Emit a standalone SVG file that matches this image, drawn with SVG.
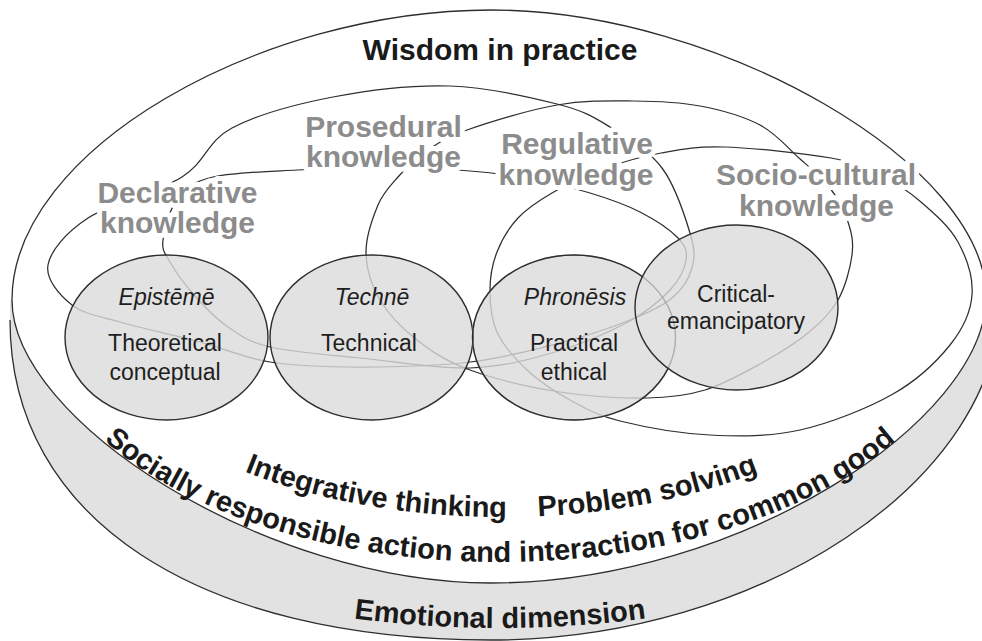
<svg xmlns="http://www.w3.org/2000/svg" xmlns:xlink="http://www.w3.org/1999/xlink" width="982" height="641" viewBox="0 0 982 641">
<style>
.edge{fill:none;stroke:#2e2e2e;stroke-width:1.3}
.loop{fill:none;stroke:#2e2e2e;stroke-width:1.25}
.cfill{fill:#dbdbdb}
.cout{fill:none;stroke:#2e2e2e;stroke-width:1.4}
.ctext{font-family:"Liberation Sans",Arial,Helvetica,sans-serif;font-size:23px;fill:#1e1e1e;text-anchor:middle}
.it{font-style:italic}
.klab{font-family:"Liberation Sans",Arial,Helvetica,sans-serif;font-size:30px;font-weight:bold;fill:#8c8c8c;text-anchor:middle;stroke:#fff;stroke-width:10;stroke-linejoin:round;paint-order:stroke}
.big{font-family:"Liberation Sans",Arial,Helvetica,sans-serif;font-size:29px;font-weight:bold;fill:#1a1a1a}
</style>
<defs>
<clipPath id="outCrit"><path clip-rule="evenodd" d="M0,0H982V641H0Z M635,307.5 a101.5,82.5 0 1,0 203,0 a101.5,82.5 0 1,0 -203,0 Z"/></clipPath>
<path id="p-social" d="M31,300 A469,262 0 0,0 969,300"/>
<path id="p-int" d="M82,300 A420,217 0 0,0 922,300"/>
<path id="p-emo" d="M300,610 Q500,646 700,610"/>
</defs>

<!-- disc: side band, then top face -->
<path d="M10,320 C10,520 200,640 491,640 C760,640 1000,480 1000,300 L10,300 Z" fill="#e2e2e2"/>
<path class="edge" d="M10,320 C10,520 200,640 491,640 C760,640 1000,480 1000,300"/>
<path class="edge" style="fill:#fff" d="M12,300 C12,150 260,10 491,10 C720,10 986,165 986,297 C986,420 740,583 491,583 C265,583 12,420 12,300 Z"/>

<!-- knowledge loops -->
<g id="connectors">
<path id="loop-declarative-regulative" class="loop" d="M182,177 C206,162 206.8,141.3 232,128 S296.7,104 333,97 S412.7,84.8 450,86 S530.3,97.2 557,104 S592.5,116.3 610,127 S648.7,150.3 662,168 S685,216.3 690,233 S695,257.2 692,268 S682.3,289.3 672,298 S648.7,312.5 630,320 S586.7,336 560,343 S503.3,358 470,362 S393.3,367 360,367 S296.7,366.2 270,362 S225,348.7 200,342 S141.3,328.2 120,322 S84,314.5 72,305 S45.3,279.5 48,265 S65.7,232.7 88,218 S158,192 182,177 Z"/>
<path id="loop-declarative-prosedural-regulative" class="loop" d="M163,240 C161.7,250.7 164.7,252.7 170,262 S185.3,285.2 195,296 S215.5,318.5 228,327 S248,341.8 270,347 S326.7,354.5 360,358 S437.5,369 470,368 S528.7,359.7 555,352 S608.8,332.3 628,322 S660.3,300.3 670,290 S684.7,268.7 686,260 S685.7,246 678,238 S654.7,219.5 640,212 S608.3,198.5 590,193 S550,182.7 530,179 S494.5,172.8 470,171 S411.8,168.2 383,168 S325.3,168.5 297,170 S232.8,172.3 213,177 S186.3,187.5 178,198 S164.3,229.3 163,240 Z"/>
<path id="loop-prosedural-sociocultural" class="loop" d="M398,177 C390.2,185.8 383.3,192.3 378,205 S365.7,237.2 366,253 S371.5,285.5 380,300 S402,328.3 417,340 S446.2,361.3 470,370 S530.5,387.3 560,392 S622.8,398.3 647,398 S686.2,395.7 705,390 S742.8,373.5 760,364 S795,343.7 808,333 S830.7,313 838,300 S850.3,268 852,255 S851.7,233.2 848,222 S838.2,198.7 830,188 S810.7,168.5 799,158 S776.5,133.7 760,125 S721.2,110 700,106 S656.8,101.2 633,101 S584.7,100.2 557,105 S489,122.2 467,130 S436.5,144.2 425,152 S405.8,168.2 398,177 Z"/>
<path id="loop-regulative-sociocultural" class="loop" d="M552,193 C538.3,201 527.2,208.2 518,218 S501.7,240 497,252 S490,276.7 490,290 S490.8,318.7 497,332 S514.8,358.7 527,370 S554.5,391.5 570,400 S596.7,415.2 620,421 S680,433.5 710,435 S769.5,436.8 800,430 S868,408.2 893,394 S936.8,361.5 950,345 S970.7,312.2 972,295 S966.5,257.5 958,242 S934,213.2 921,202 S895,182.3 880,175 S857,162.7 831,158 S752.3,147.8 724,147 S681.7,149.2 661,153 S618.2,163.3 600,170 S565.7,185 552,193 Z"/>
</g>

<!-- circle fills (shared translucency) -->
<g id="circle-fills" opacity="0.8">
<ellipse class="cfill" cx="166.5" cy="337.5" rx="101.5" ry="82.5"/>
<ellipse class="cfill" cx="371.5" cy="337.5" rx="101.5" ry="82.5"/>
<ellipse class="cfill" cx="574" cy="337.5" rx="101.5" ry="82.5"/>
<ellipse class="cfill" cx="736.5" cy="307.5" rx="101.5" ry="82.5"/>
</g>

<g id="episteme">
<ellipse class="cout" cx="166.5" cy="337.5" rx="101.5" ry="82.5"/>
<text class="ctext it" x="166.5" y="305">Epistēmē</text>
<text class="ctext" x="165" y="351">Theoretical</text>
<text class="ctext" x="165" y="380">conceptual</text>
</g>
<g id="techne">
<ellipse class="cout" cx="371.5" cy="337.5" rx="101.5" ry="82.5"/>
<text class="ctext it" x="372" y="305">Technē</text>
<text class="ctext" x="369" y="351">Technical</text>
</g>
<g id="phronesis">
<ellipse cx="574" cy="337.5" rx="101.5" ry="82.5" fill="none" stroke="#aaaaaa" stroke-width="1.3"/>
<ellipse class="cout" cx="574" cy="337.5" rx="101.5" ry="82.5" clip-path="url(#outCrit)"/>
<text class="ctext it" x="575" y="305">Phronēsis</text>
<text class="ctext" x="574" y="351">Practical</text>
<text class="ctext" x="574" y="380">ethical</text>
</g>
<g id="critical-emancipatory">
<ellipse class="cout" cx="736.5" cy="307.5" rx="101.5" ry="82.5"/>
<text class="ctext" x="736" y="302">Critical-</text>
<text class="ctext" x="736" y="329">emancipatory</text>
</g>

<!-- knowledge labels -->
<g id="declarative">
<text class="klab" x="177.5" y="203">Declarative</text>
<text class="klab" x="177.5" y="233">knowledge</text>
</g>
<g id="prosedural">
<text class="klab" x="383.5" y="137">Prosedural</text>
<text class="klab" x="383.5" y="167">knowledge</text>
</g>
<g id="regulative">
<text class="klab" x="577" y="154">Regulative</text>
<text class="klab" x="576" y="185">knowledge</text>
</g>
<g id="socio-cultural">
<text class="klab" x="816" y="185">Socio-cultural</text>
<text class="klab" x="816.5" y="216">knowledge</text>
</g>

<!-- disc texts -->
<g id="wisdom">
<text class="big" x="500" y="60" text-anchor="middle" style="font-size:30px">Wisdom in practice</text>
</g>
<g id="integrative">
<text class="big"><textPath href="#p-int" xlink:href="#p-int" startOffset="250">Integrative thinking</textPath></text>
</g>
<g id="problem">
<text class="big"><textPath href="#p-int" xlink:href="#p-int" startOffset="549">Problem solving</textPath></text>
</g>
<g id="socially">
<text class="big" text-anchor="middle"><textPath href="#p-social" xlink:href="#p-social" startOffset="50%">Socially responsible action and interaction for common good</textPath></text>
</g>
<g id="emotional">
<text class="big" text-anchor="middle"><textPath href="#p-emo" xlink:href="#p-emo" startOffset="50%">Emotional dimension</textPath></text>
</g>
</svg>
